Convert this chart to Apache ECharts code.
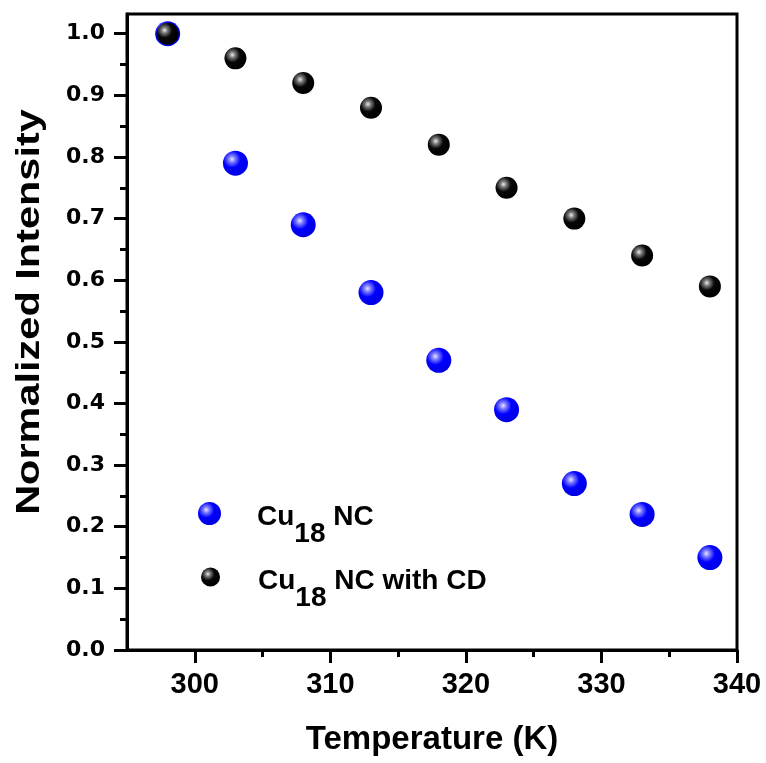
<!DOCTYPE html>
<html>
<head>
<meta charset="utf-8">
<script src="https://cdn.jsdelivr.net/npm/echarts@6/dist/echarts.min.js"></script>
<style>
  html, body { margin: 0; padding: 0; background: #fff; }
  #chart { width: 766px; height: 763px; }
</style>
</head>
<body>
<div id="chart"></div>
<script>
// Temperature (K) at which each spectrum was recorded
const temperatures = [298, 303, 308, 313, 318, 323, 328, 333, 338];
// Normalized emission intensity of the bare clusters
const cu18 = [1.00, 0.79, 0.69, 0.58, 0.47, 0.39, 0.27, 0.22, 0.15];
// Normalized emission intensity of the clusters with cyclodextrin
const cu18WithCD = [1.00, 0.96, 0.92, 0.88, 0.82, 0.75, 0.70, 0.64, 0.59];

const seriesNames = ['Cu18 NC', 'Cu18 NC with CD'];

// Axis ticks
const xMajorTicks = [300, 310, 320, 330, 340];
const xMinorTicks = [305, 315, 325, 335];
const yMajorTicks = [0.0, 0.1, 0.2, 0.3, 0.4, 0.5, 0.6, 0.7, 0.8, 0.9, 1.0];
const yMinorTicks = [0.05, 0.15, 0.25, 0.35, 0.45, 0.55, 0.65, 0.75, 0.85, 0.95];

const X_MIN = 295, X_MAX = 340, Y_MIN = 0, Y_MAX = 1.032;

const AXIS_FONT = '"Liberation Sans", Arial, sans-serif';
const LINE_W = 3;

function sphere(hi, mid, base, edge) {
  return {
    type: 'radial', x: 0.36, y: 0.34, r: 0.62,
    colorStops: [
      { offset: 0, color: hi },
      { offset: 0.22, color: mid },
      { offset: 0.55, color: base },
      { offset: 1, color: edge }
    ]
  };
}
const blueBall = sphere('#e6e6ff', '#7a7aff', '#0000ff', '#0000e6');
const blackBall = sphere('#ececec', '#7a7a7a', '#080808', '#000000');

function pairs(xs, ys) { return xs.map((x, i) => [x, ys[i]]); }

// Legend text: "Cu" with a lowered "18"
const richLegend = {
  a: { fontFamily: AXIS_FONT, fontWeight: 'bold', fontSize: 28, color: '#000', verticalAlign: 'top', padding: [25, 0, 0, 0] },
  b: { fontFamily: AXIS_FONT, fontWeight: 'bold', fontSize: 28, color: '#000', verticalAlign: 'top', padding: [42, 0, 0, 0] }
};
function legendLabel(name) {
  const rest = name.replace(/^Cu18/, '');
  return '{g|}{a|Cu}{b|18}{a|' + rest + '}';
}

const baseXAxis = { type: 'value', min: X_MIN, max: X_MAX, position: 'bottom', splitLine: { show: false } };
const baseYAxis = { type: 'value', min: Y_MIN, max: Y_MAX, position: 'left', splitLine: { show: false } };

const option = {
  backgroundColor: '#fff',
  animation: false,
  grid: {
    left: 127, right: 29, top: 14, bottom: 113,
    outerBoundsMode: 'none',
    containLabel: false,
    show: true, borderColor: '#000', borderWidth: LINE_W, backgroundColor: 'transparent'
  },
  xAxis: [
    Object.assign({}, baseXAxis, {
      name: 'Temperature (K)',
      nameLocation: 'middle',
      nameGap: 73,
      nameTextStyle: { fontFamily: AXIS_FONT, fontWeight: 'bold', fontSize: 33, color: '#000' },
      axisLine: { show: true, lineStyle: { color: '#000', width: LINE_W } },
      axisTick: { show: true, inside: false, length: 13, lineStyle: { color: '#000', width: LINE_W }, customValues: xMajorTicks },
      axisLabel: { show: true, margin: 20, fontFamily: AXIS_FONT, fontWeight: 'bold', fontSize: 29, color: '#000', customValues: xMajorTicks }
    }),
    Object.assign({}, baseXAxis, {
      axisLine: { show: false },
      axisTick: { show: true, inside: false, length: 7, lineStyle: { color: '#000', width: LINE_W }, customValues: xMinorTicks },
      axisLabel: { show: false }
    })
  ],
  yAxis: [
    Object.assign({}, baseYAxis, {
      axisLine: { show: true, lineStyle: { color: '#000', width: LINE_W } },
      axisTick: { show: true, inside: false, length: 13, lineStyle: { color: '#000', width: LINE_W }, customValues: yMajorTicks },
      axisLabel: {
        show: true, margin: 22, fontFamily: '"DejaVu Sans", Verdana, sans-serif', fontWeight: 'bold', fontSize: 22, color: '#000',
        customValues: yMajorTicks, formatter: v => v.toFixed(1)
      }
    }),
    Object.assign({}, baseYAxis, {
      axisLine: { show: false },
      axisTick: { show: true, inside: false, length: 7, lineStyle: { color: '#000', width: LINE_W }, customValues: yMinorTicks },
      axisLabel: { show: false }
    })
  ],
  legend: [
    {
      data: [seriesNames[0]], left: 198, top: 502, padding: 0,
      icon: 'circle', itemWidth: 23, itemHeight: 23,
      formatter: legendLabel,
      textStyle: { rich: Object.assign({ g: { width: 31 } }, richLegend) }
    },
    {
      data: [seriesNames[1]], left: 201, top: 567, padding: 0,
      icon: 'circle', itemWidth: 19, itemHeight: 19,
      formatter: legendLabel,
      textStyle: { rich: Object.assign({ g: { width: 33 } }, richLegend) }
    }
  ],
  graphic: [
    {
      type: 'text',
      x: 30, y: 312,
      rotation: Math.PI / 2,
      scaleX: 1.22,
      style: {
        text: 'Normalized Intensity',
        font: 'bold 34px ' + AXIS_FONT,
        fill: '#000',
        align: 'center',
        verticalAlign: 'middle'
      }
    }
  ],
  series: [
    {
      name: seriesNames[0], type: 'scatter', xAxisIndex: 0, yAxisIndex: 0,
      symbol: 'circle', symbolSize: 25,
      itemStyle: { color: blueBall, opacity: 1 },
      data: pairs(temperatures, cu18), z: 3
    },
    {
      name: seriesNames[1], type: 'scatter', xAxisIndex: 0, yAxisIndex: 0,
      symbol: 'circle', symbolSize: 22,
      itemStyle: { color: blackBall, opacity: 1 },
      data: pairs(temperatures, cu18WithCD), z: 4
    }
  ]
};

const chart = echarts.init(document.getElementById('chart'), null, { renderer: 'canvas' });
chart.setOption(option);
</script>
</body>
</html>
